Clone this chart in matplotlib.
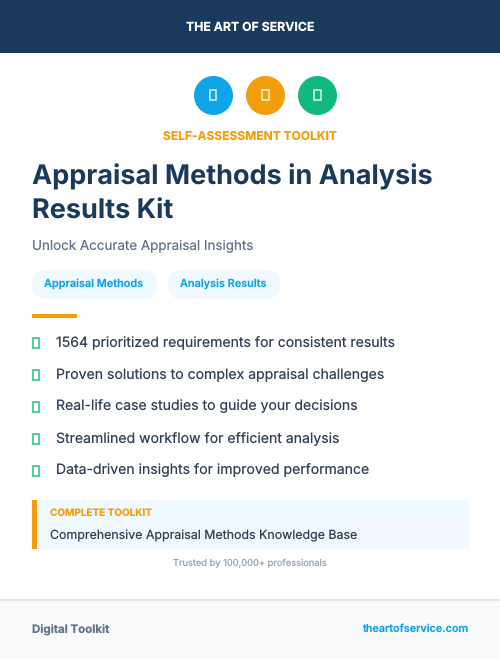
#!/usr/bin/env python3
"""Toolkit cover card, laid out in pixel coordinates."""
import matplotlib
matplotlib.use("Agg")
import matplotlib.pyplot as plt
from matplotlib.patches import Circle, FancyBboxPatch, Rectangle

plt.rcParams["font.family"] = ["Inter", "DejaVu Sans"]
plt.rcParams["text.hinting"] = "no_hinting"
plt.rcParams["text.hinting_factor"] = 1

W, H = 500, 659
NAVY = "#1a3a5c"
BLUE = "#0ea5e9"
ORANGE = "#f59e0b"
GREEN = "#10b981"
SLATE = "#64748b"
DARK = "#334155"
PALE = "#f0f9ff"

brand = "THE ART OF SERVICE"
kicker = "SELF-ASSESSMENT TOOLKIT"
title_lines = ["Appraisal Methods in Analysis", "Results Kit"]
subtitle = "Unlock Accurate Appraisal Insights"
tags = ["Appraisal Methods", "Analysis Results"]
bullets = [
    "1564 prioritized requirements for consistent results",
    "Proven solutions to complex appraisal challenges",
    "Real-life case studies to guide your decisions",
    "Streamlined workflow for efficient analysis",
    "Data-driven insights for improved performance",
]
box_head = "COMPLETE TOOLKIT"
box_text = "Comprehensive Appraisal Methods Knowledge Base"
trusted = "Trusted by 100,000+ professionals"
foot_left = "Digital Toolkit"
foot_right = "theartofservice.com"


def px(size):
    # css px to points at dpi 100
    return size * 0.72


def tofu(ax, cx, cy, w, h, color, lw=1.0, alpha=1.0):
    ax.add_patch(Rectangle((cx - w / 2, cy - h / 2), w, h, fill=False,
                           edgecolor=color, lw=lw, alpha=alpha))


def pill(ax, x, y, w, h, color):
    r = h / 2
    ax.add_patch(FancyBboxPatch((x + r, y + r), w - h, 0.01,
                                boxstyle=f"round,pad={r},rounding_size={r}",
                                facecolor=color, edgecolor="none"))


fig = plt.figure(figsize=(W / 100, H / 100), dpi=100, facecolor="white")
ax = fig.add_axes([0, 0, 1, 1])
ax.set_xlim(0, W)
ax.set_ylim(H, 0)
ax.axis("off")

# header band
ax.add_patch(Rectangle((0, 0), W, 53, facecolor=NAVY, edgecolor="none"))
ax.text(250, 28, brand, color="white", fontsize=px(12.3), fontweight="bold",
        ha="center", va="center")

# icon row
for cx, col in zip([213.5, 265.5, 317.5], [BLUE, ORANGE, GREEN]):
    ax.add_patch(Circle((cx, 95.5), 19.5, facecolor=col, edgecolor="none"))
    tofu(ax, cx - 0.3, 95, 6.6, 10, "#ffffff", lw=1.1, alpha=0.85)

ax.text(250, 137, kicker, color=ORANGE, fontsize=px(12), fontweight="bold",
        ha="center", va="center")

for y, line in zip([176.5, 211.5], title_lines):
    ax.text(32, y, line, color=NAVY, fontsize=px(27.05), fontweight="bold",
            ha="left", va="center")

ax.text(32, 246, subtitle, color=SLATE, fontsize=px(13.4),
        ha="left", va="center")

# tags
for (x, w), tag in zip([(31.5, 125), (167.5, 112)], tags):
    pill(ax, x + 0.5, 270, w, 29, PALE)
    ax.text(x + w / 2, 284, tag, color=BLUE, fontsize=px(10.9),
            fontweight="semibold", ha="center", va="center")

ax.add_patch(Rectangle((32, 314), 45, 4, facecolor=ORANGE, edgecolor="none"))

# checklist
for y, item in zip([343, 375, 407, 439, 471], bullets):
    tofu(ax, 36, y - 0.5, 6.6, 10, GREEN, lw=1.2, alpha=0.85)
    ax.text(56, y, item, color=DARK, fontsize=px(14.05), ha="left", va="center")

# callout
ax.add_patch(Rectangle((32, 500), 437, 49, facecolor=PALE, edgecolor="none"))
ax.add_patch(Rectangle((32, 500), 5, 49, facecolor=ORANGE, edgecolor="none"))
ax.text(50, 513, box_head, color=ORANGE, fontsize=px(10), fontweight="bold",
        ha="left", va="center")
ax.text(50, 535.5, box_text, color=DARK, fontsize=px(12.4),
        ha="left", va="center")

ax.text(250, 563.5, trusted, color="#94a3b8", fontsize=px(9.3),
        ha="center", va="center")

# footer
ax.add_patch(Rectangle((0, 599), W, 60, facecolor="#f8fafc", edgecolor="none"))
ax.add_patch(Rectangle((0, 599), W, 2, facecolor="#e2e8f0", edgecolor="none"))
ax.text(32, 629.5, foot_left, color=SLATE, fontsize=px(11.5), fontweight="bold",
        ha="left", va="center")
ax.text(468, 628.5, foot_right, color=BLUE, fontsize=px(10.8), fontweight="semibold",
        ha="right", va="center")

fig.savefig("out.png", dpi=100)
